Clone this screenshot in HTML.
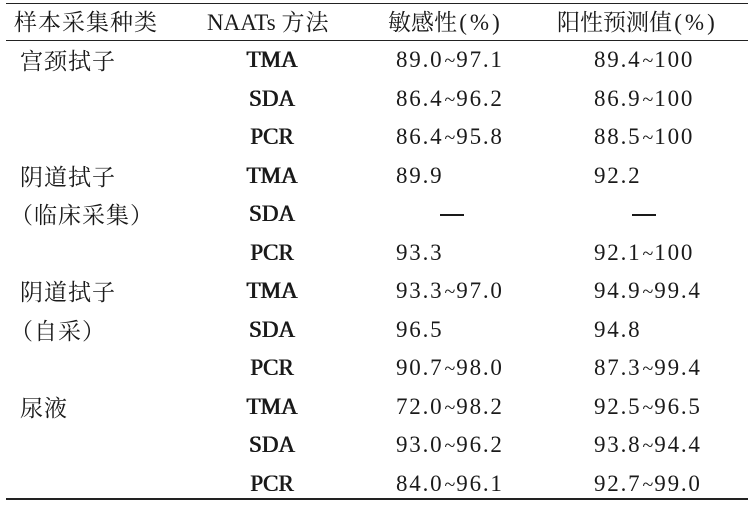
<!DOCTYPE html>
<html><head><meta charset="utf-8"><style>
html,body{margin:0;padding:0;background:#fff;}
body{width:754px;height:507px;position:relative;overflow:hidden;font-family:"Liberation Serif",serif;color:#1a1a1a;font-size:23px;}
.r{position:absolute;left:0;width:754px;height:38px;line-height:38px;}
.r span{position:absolute;white-space:nowrap;}
.r span span{position:static;}
.cj{font-family:"Noto Serif CJK SC","Noto Sans CJK SC",serif;font-size:23px;letter-spacing:1px;}
.c1{left:20px;}
.c2{left:222px;width:100px;text-align:center;text-shadow:0.5px 0 0 #1a1a1a,-0.3px 0 0 #1a1a1a;}
.c3{left:396px;letter-spacing:1.8px;}
.c4{left:594px;letter-spacing:1.8px;}
.t{font-size:20px;letter-spacing:0;margin:0 1px;}
.p{display:inline-block;width:48px;text-align:center;letter-spacing:3px;font-family:"Liberation Serif",serif;}
.hl{position:absolute;left:6px;width:742px;background:#222;}
</style></head><body>
<div class="hl" style="top:3px;height:1px"></div>
<div class="hl" style="top:40px;height:1px"></div>
<div class="hl" style="top:498px;height:2px"></div>
<div class="r" style="top:2px"><span class="cj" style="left:14px">样本采集种类</span><span style="left:207px">NAATs <span class="cj">方法</span></span><span class="cj" style="left:388px;letter-spacing:0">敏感性<span class="p">(%)</span></span><span class="cj" style="left:557px;letter-spacing:0">阳性预测值<span class="p">(%)</span></span></div>
<div class="r" style="top:41px"><span class="c1 cj">宫颈拭子</span><span class="c2">TMA</span><span class="c3">89.0<span class="t">~</span>97.1</span><span class="c4">89.4<span class="t">~</span>100</span></div>
<div class="r" style="top:80px"><span class="c2">SDA</span><span class="c3">86.4<span class="t">~</span>96.2</span><span class="c4">86.9<span class="t">~</span>100</span></div>
<div class="r" style="top:118px"><span class="c2">PCR</span><span class="c3">86.4<span class="t">~</span>95.8</span><span class="c4">88.5<span class="t">~</span>100</span></div>
<div class="r" style="top:157px"><span class="c1 cj">阴道拭子</span><span class="c2">TMA</span><span class="c3">89.9</span><span class="c4">92.2</span></div>
<div class="r" style="top:195px"><span class="cj" style="left:10px">（临床采集）</span><span class="c2">SDA</span><span style="left:440px;width:24px;height:2px;top:19px;background:#1a1a1a"></span><span style="left:632px;width:24px;height:2px;top:19px;background:#1a1a1a"></span></div>
<div class="r" style="top:234px"><span class="c2">PCR</span><span class="c3">93.3</span><span class="c4">92.1<span class="t">~</span>100</span></div>
<div class="r" style="top:272px"><span class="c1 cj">阴道拭子</span><span class="c2">TMA</span><span class="c3">93.3<span class="t">~</span>97.0</span><span class="c4">94.9<span class="t">~</span>99.4</span></div>
<div class="r" style="top:311px"><span class="cj" style="left:10px">（自采）</span><span class="c2">SDA</span><span class="c3">96.5</span><span class="c4">94.8</span></div>
<div class="r" style="top:349px"><span class="c2">PCR</span><span class="c3">90.7<span class="t">~</span>98.0</span><span class="c4">87.3<span class="t">~</span>99.4</span></div>
<div class="r" style="top:388px"><span class="c1 cj">尿液</span><span class="c2">TMA</span><span class="c3">72.0<span class="t">~</span>98.2</span><span class="c4">92.5<span class="t">~</span>96.5</span></div>
<div class="r" style="top:426px"><span class="c2">SDA</span><span class="c3">93.0<span class="t">~</span>96.2</span><span class="c4">93.8<span class="t">~</span>94.4</span></div>
<div class="r" style="top:465px"><span class="c2">PCR</span><span class="c3">84.0<span class="t">~</span>96.1</span><span class="c4">92.7<span class="t">~</span>99.0</span></div>
</body></html>
